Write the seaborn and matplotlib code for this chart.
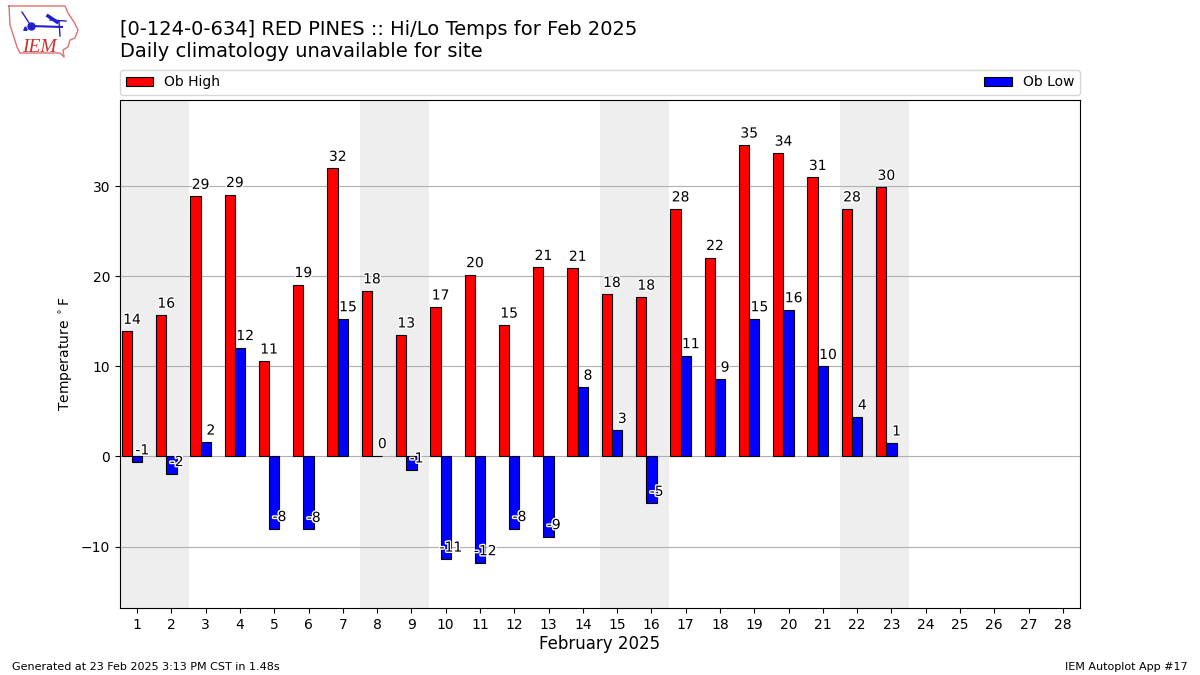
import matplotlib
matplotlib.use("Agg")
import matplotlib.patheffects as pe
import matplotlib.pyplot as plt
import numpy as np
import pandas as pd
import seaborn as sns

days = list(range(1, 24))
ob_high = [13.9, 15.7, 28.9, 29.1, 10.6, 19.1, 32.0, 18.4, 13.5, 16.6, 20.2, 14.6,
           21.0, 20.9, 18.0, 17.7, 27.5, 22.1, 34.6, 33.7, 31.0, 27.5, 29.9]
ob_low = [-0.6, -1.9, 1.6, 12.1, -8.0, -8.1, 15.3, 0.1, -1.5, -11.4, -11.8, -8.0,
          -8.9, 7.7, 2.9, -5.2, 11.2, 8.6, 15.3, 16.3, 10.0, 4.4, 1.5]
high_labels = [14, 16, 29, 29, 11, 19, 32, 18, 13, 17, 20, 15, 21, 21, 18, 18, 28, 22, 35, 34, 31, 28, 30]
low_labels = [-1, -2, 2, 12, -8, -8, 15, 0, -1, -11, -12, -8, -9, 8, 3, -5, 11, 9, 15, 16, 10, 4, 1]
weekends = [(1, 2), (8, 9), (15, 16), (22, 23)]
tick_days = list(range(1, 29))
y_ticks = [-10, 0, 10, 20, 30]

# logo outline, just an approximation of the state shape
logo_x = [9, 65, 68, 74, 78, 75, 70, 68, 63, 64, 60, 20, 17, 10, 9]
logo_y = [6, 6, 13, 22, 30, 38, 40, 47, 50, 57, 53, 53, 47, 25, 6]

df = pd.DataFrame({"day": days, "high": ob_high, "low": ob_low})
df["high_pos"] = df["day"] - 0.3

fig = plt.figure(figsize=(12, 6.75), dpi=100)
ax = fig.add_axes([120 / 1200, 1 - 608 / 675, 960 / 1200, 508 / 675])

# weekend shading
for start, end in weekends:
    ax.axvspan(start - 0.5, end + 0.5, color="#eeeeee", lw=0, zorder=0)

sns.barplot(data=df, x="high_pos", y="high", native_scale=True, width=0.3, color="red",
            saturation=1, edgecolor="k", linewidth=0.8, label="Ob High", zorder=2, ax=ax)
sns.barplot(data=df, x="day", y="low", native_scale=True, width=0.3, color="blue",
            saturation=1, edgecolor="k", linewidth=0.8, label="Ob Low", zorder=2, ax=ax)

# value labels, white halo shows up where they sit on the bars
halo = [pe.withStroke(linewidth=2, foreground="white")]
for d, h, hl, l, ll in zip(days, ob_high, high_labels, ob_low, low_labels):
    ax.text(d - 0.15, h + 0.5, str(hl), ha="center", va="bottom", fontsize=10,
            path_effects=halo, zorder=5)
    ax.text(d + 0.15, l + 0.5, str(ll), ha="center", va="bottom", fontsize=10,
            path_effects=halo, zorder=5)

ax.set_xlim(0.5, 28.5)
ax.set_ylim(-16.83, 39.6)
ax.set_xticks(tick_days)
ax.set_xticklabels([str(d) for d in tick_days])
ax.set_yticks(y_ticks)
ax.tick_params(labelsize=10)
ax.set_axisbelow(True)
ax.grid(True, axis="y", color="#b0b0b0", lw=0.8, zorder=1)
ax.set_xlabel("February 2025", fontsize=12, labelpad=2.5)
ax.set_ylabel(r"Temperature $^\circ$F", fontsize=10)

ax.legend(loc="lower left", bbox_to_anchor=(0, 1.01, 1, 0.05), ncol=2, mode="expand",
          borderaxespad=0, fontsize=10)

fig.text(120 / 1200, 1 - 35 / 675, "[0-124-0-634] RED PINES :: Hi/Lo Temps for Feb 2025", fontsize=14, va="baseline")
fig.text(120 / 1200, 1 - 57 / 675, "Daily climatology unavailable for site", fontsize=14, va="baseline")
fig.text(12 / 1200, 1 - 670 / 675, "Generated at 23 Feb 2025 3:13 PM CST in 1.48s", fontsize=8, va="baseline")
fig.text(1188 / 1200, 1 - 670 / 675, "IEM Autoplot App #17", fontsize=8, ha="right", va="baseline")

# logo in pixel coordinates
logo = fig.add_axes([0, 1 - 65 / 675, 90 / 1200, 65 / 675])
logo.set_xlim(0, 90)
logo.set_ylim(65, 0)
logo.axis("off")
logo.plot(logo_x, logo_y, color="#e07070", lw=1)
logo.plot([31, 62], [26, 27], color="#2020d0", lw=1.5)
logo.plot([22, 31], [12, 26], color="#2020d0", lw=1)
logo.plot([48, 57], [16, 22], color="#2020d0", lw=2.5)
logo.plot([50, 66], [20, 21], color="#2020d0", lw=1)
logo.plot([59, 60], [21, 36], color="#2020d0", lw=1)
logo.plot([31], [26], "o", color="#2020d0", ms=5)
logo.plot([25], [28], "^", color="#2020d0", ms=2.5)
logo.text(22, 52, "IEM", color="#d03030", fontsize=14, style="italic", family="Liberation Serif")

fig.savefig("out.png", dpi=100)
